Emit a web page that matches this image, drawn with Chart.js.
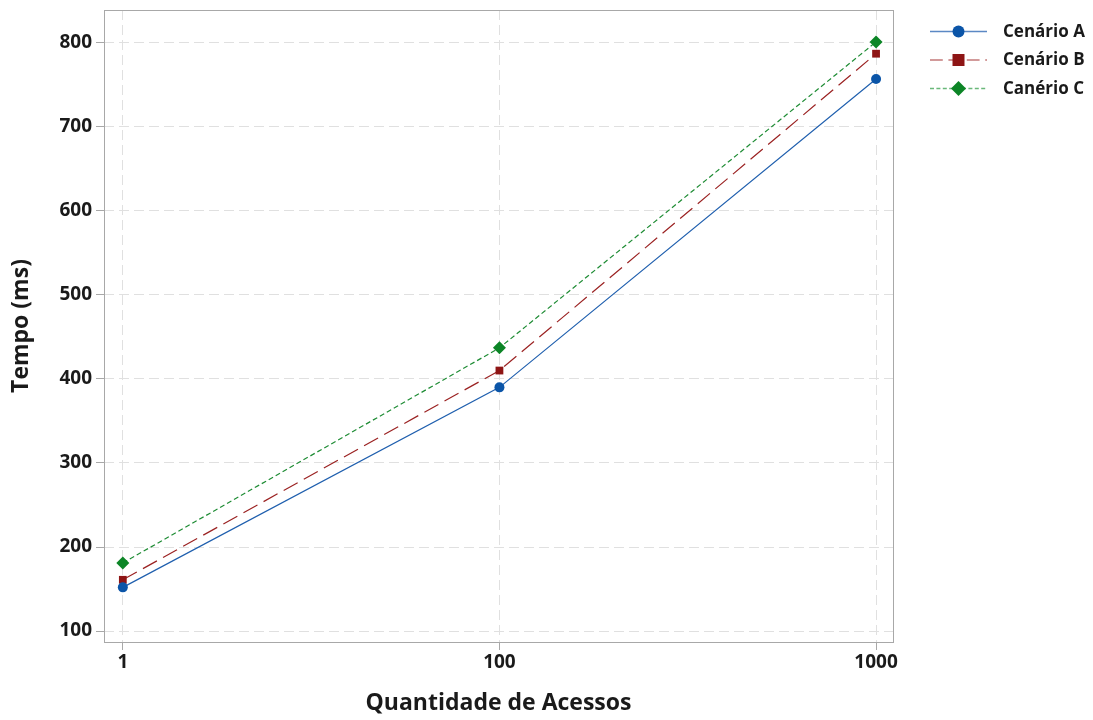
<!DOCTYPE html>
<html>
<head>
<meta charset="utf-8">
<script src="https://cdn.jsdelivr.net/npm/chart.js@4/dist/chart.umd.min.js"></script>
<style>
  html, body { margin: 0; padding: 0; background: #fff; }
  #wrap { width: 1093px; height: 720px; }
</style>
</head>
<body>
<div id="wrap"><canvas id="chart"></canvas></div>
<script>
const acessos = ['1', '100', '1000'];
const cenarioA = [152, 390, 757];
const cenarioB = [161, 410, 787];
const cenarioC = [181, 437, 801];
const yTicks = [100, 200, 300, 400, 500, 600, 700, 800];

const FONT = '"Open Sans", "Noto Sans", sans-serif';

function toPoints(vals) {
  return vals.map((v, i) => ({ x: i, y: v }));
}

const data = {
  datasets: [
    {
      label: 'Cenário A', data: toPoints(cenarioA),
      borderColor: '#1f5fae', backgroundColor: '#0b55a8', legendLine: '#5b88c4',
      borderWidth: 1.2, pointStyle: 'circle', pointRadius: 5, pointBorderWidth: 0
    },
    {
      label: 'Cenário B', data: toPoints(cenarioB),
      borderColor: '#9b2222', backgroundColor: '#8e1515', legendLine: '#c47a7a', borderDash: [16, 7],
      borderWidth: 1.2, pointStyle: 'rect', pointRadius: 5.5, pointBorderWidth: 0
    },
    {
      label: 'Canério C', data: toPoints(cenarioC),
      borderColor: '#1e8c34', backgroundColor: '#0c8526', legendLine: '#6ab87a', borderDash: [5, 3],
      borderWidth: 1.2, pointStyle: 'rectRot', pointRadius: 6.5, pointBorderWidth: 0
    }
  ]
};

// frame around the plot area + custom legend with line and marker
const framePlugin = {
  id: 'frame',
  afterDatasetsDraw(chart) {
    const { ctx, chartArea: a } = chart;
    ctx.save();
    ctx.strokeStyle = '#a8a8a8';
    ctx.lineWidth = 1;
    ctx.strokeRect(a.left + 0.5, a.top + 0.5, a.right - a.left, a.bottom - a.top);
    ctx.restore();
  },
  afterDraw(chart) {
    const ctx = chart.ctx;
    const x0 = 930, x1 = 987, y0 = 31, dy = 28.5;
    ctx.save();
    chart.data.datasets.forEach((ds, i) => {
      const y = y0 + i * dy;
      const cx = (x0 + x1) / 2, cy = y + 0.5;
      ctx.strokeStyle = ds.legendLine;
      ctx.lineWidth = 1.5;
      ctx.setLineDash(ds.borderDash ? ds.borderDash.map(d => d * 0.8) : []);
      ctx.beginPath();
      ctx.moveTo(x0, cy);
      ctx.lineTo(x1, cy);
      ctx.stroke();
      ctx.setLineDash([]);
      ctx.fillStyle = ds.backgroundColor;
      ctx.beginPath();
      const r = ds.pointRadius + 1;
      if (ds.pointStyle === 'circle') {
        ctx.arc(cx, cy, r, 0, Math.PI * 2);
      } else if (ds.pointStyle === 'rect') {
        ctx.rect(cx - r + 0.5, cy - r + 0.5, 2 * r - 1, 2 * r - 1);
      } else {
        ctx.moveTo(cx, cy - r); ctx.lineTo(cx + r, cy); ctx.lineTo(cx, cy + r); ctx.lineTo(cx - r, cy);
        ctx.closePath();
      }
      ctx.fill();
      ctx.fillStyle = '#1a1a1a';
      ctx.font = '700 17px ' + FONT;
      ctx.textBaseline = 'middle';
      ctx.fillText(ds.label, 1003, y + 1);
    });
    ctx.restore();
  }
};

const config = {
  type: 'line',
  data: data,
  options: {
    responsive: true,
    maintainAspectRatio: false,
    animation: false,
    layout: { padding: { top: 10, right: 200, left: 0, bottom: 0 } },
    plugins: { legend: { display: false }, tooltip: { enabled: false } },
    scales: {
      x: {
        type: 'linear',
        min: -0.05,
        max: 2.045,
        afterBuildTicks: (s) => { s.ticks = acessos.map((_, i) => ({ value: i })); },
        afterFit: (s) => { s.height = 78; s.paddingLeft = 0; s.paddingRight = 0; },
        ticks: {
          callback: (v) => acessos[v],
          color: '#1a1a1a',
          font: { family: FONT, size: 19, weight: '700' },
          padding: 1,
          maxRotation: 0
        },
        grid: {
          color: '#e0e0e0', tickColor: '#a8a8a8', tickLength: 8,
          tickBorderDash: [], drawOnChartArea: true
        },
        border: { display: false, dash: [10, 5] },
        title: {
          display: true, text: 'Quantidade de Acessos', color: '#1a1a1a',
          font: { family: FONT, size: 23, weight: '700' },
          padding: { top: 0, bottom: 3 }
        }
      },
      y: {
        min: 87,
        max: 839,
        afterBuildTicks: (s) => { s.ticks = yTicks.map(v => ({ value: v })); },
        afterFit: (s) => { s.width = 104; s.paddingTop = 0; s.paddingBottom = 0; },
        ticks: {
          color: '#1a1a1a',
          font: { family: FONT, size: 19, weight: '700' },
          padding: 4
        },
        grid: {
          color: '#e0e0e0', tickColor: '#a8a8a8', tickLength: 8,
          tickBorderDash: []
        },
        border: { display: false, dash: [10, 5] },
        title: {
          display: true, text: 'Tempo (ms)', color: '#1a1a1a',
          font: { family: FONT, size: 23, weight: '700' },
          padding: { top: 8, bottom: 0 }
        }
      }
    }
  },
  plugins: [framePlugin]
};

new Chart(document.getElementById('chart').getContext('2d'), config);
</script>
</body>
</html>
